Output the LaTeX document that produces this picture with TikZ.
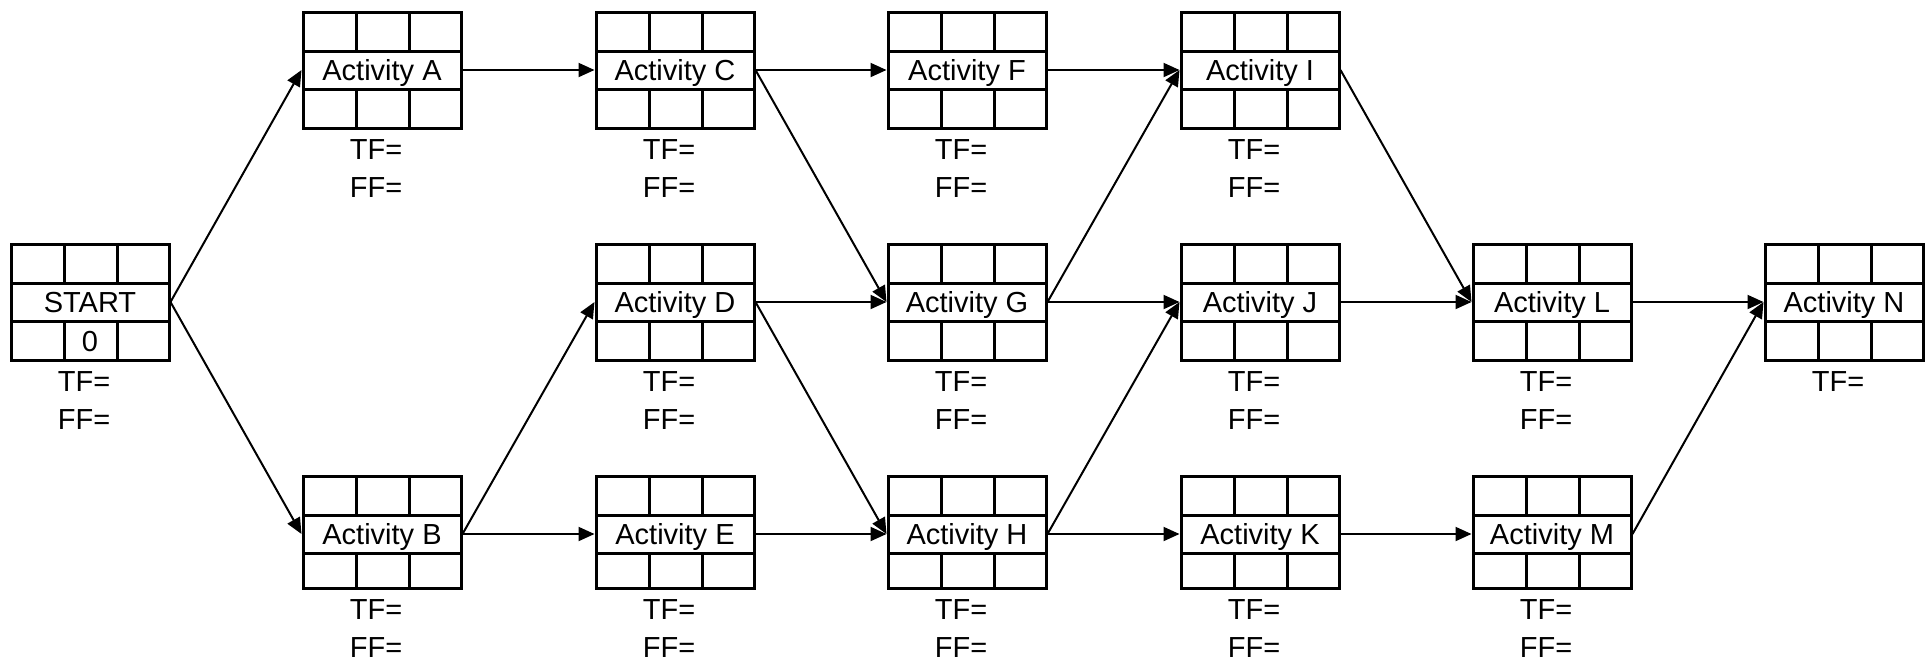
\documentclass[tikz,border=0pt]{standalone}
\usepackage{fontspec}
\setmainfont{Liberation Sans}
\usetikzlibrary{arrows.meta}
\tikzset{
  boxline/.style={line width=3pt},
  midrow/.style={draw, line width=3pt, minimum width=158pt, inner sep=0pt,
    text height=21pt, text depth=0pt, font=\fontsize{29}{34}\selectfont},
  cell/.style={inner sep=0pt, text height=21pt, text depth=0pt, font=\fontsize{29}{34}\selectfont},
  flab/.style={anchor=base, inner sep=0pt, font=\fontsize{29}{34}\selectfont},
  conn/.style={line width=2pt, -{Triangle[length=16pt,width=14pt]}}
}
% #1 name, #2 left x, #3 top, #4 row line 1, #5 row line 2, #6 bottom, #7 label
\newcommand\actbox[7]{%
  \draw[boxline] (#2,#3) rectangle (#2+158,#6);
  \draw[boxline] (#2+53,#3) -- (#2+53,#4) (#2+106,#3) -- (#2+106,#4);
  \draw[boxline] (#2+53,#5) -- (#2+53,#6) (#2+106,#5) -- (#2+106,#6);
  \node[midrow, minimum height={(#5-#4)*1pt}] (#1) at (#2+79,{(#4+#5)/2}) {#7};
}
\newcommand\tflab[3]{% name, left, bottom
  \node[flab] (#1-tf) at (#2+73,#3+31) {TF=};
}
\newcommand\fflab[3]{%
  \node[flab] (#1-ff) at (#2+73,#3+69) {FF=};
}
\begin{document}
\begin{tikzpicture}[x=1pt,y=-1pt]
\useasboundingbox (0,0) rectangle (1931,665);
% START
\actbox{S}{11}{244}{283}{321}{360}{START}
\node[cell] (S0) at (11+79,{(321+360)/2}) {0};
\tflab{S}{11}{360}\fflab{S}{11}{360}
% top row
\actbox{A}{303}{12}{51}{89}{128}{Activity A}
\tflab{A}{303}{128}\fflab{A}{303}{128}
\actbox{C}{596}{12}{51}{89}{128}{Activity C}
\tflab{C}{596}{128}\fflab{C}{596}{128}
\actbox{F}{888}{12}{51}{89}{128}{Activity F}
\tflab{F}{888}{128}\fflab{F}{888}{128}
\actbox{I}{1181}{12}{51}{89}{128}{Activity I}
\tflab{I}{1181}{128}\fflab{I}{1181}{128}
% middle row
\actbox{D}{596}{244}{283}{321}{360}{Activity D}
\tflab{D}{596}{360}\fflab{D}{596}{360}
\actbox{G}{888}{244}{283}{321}{360}{Activity G}
\tflab{G}{888}{360}\fflab{G}{888}{360}
\actbox{J}{1181}{244}{283}{321}{360}{Activity J}
\tflab{J}{1181}{360}\fflab{J}{1181}{360}
\actbox{L}{1473}{244}{283}{321}{360}{Activity L}
\tflab{L}{1473}{360}\fflab{L}{1473}{360}
\actbox{N}{1765}{244}{283}{321}{360}{Activity N}
\tflab{N}{1765}{360}
% bottom row
\actbox{B}{303}{476}{515}{553}{588}{Activity B}
\tflab{B}{303}{588}\fflab{B}{303}{588}
\actbox{E}{596}{476}{515}{553}{588}{Activity E}
\tflab{E}{596}{588}\fflab{E}{596}{588}
\actbox{H}{888}{476}{515}{553}{588}{Activity H}
\tflab{H}{888}{588}\fflab{H}{888}{588}
\actbox{K}{1181}{476}{515}{553}{588}{Activity K}
\tflab{K}{1181}{588}\fflab{K}{1181}{588}
\actbox{M}{1473}{476}{515}{553}{588}{Activity M}
\tflab{M}{1473}{588}\fflab{M}{1473}{588}
% connectors
\foreach \a/\b in {S/A,S/B,A/C,B/D,B/E,C/F,C/G,D/G,D/H,E/H,F/I,G/I,G/J,H/J,H/K,I/L,J/L,K/M,L/N,M/N}
  \draw[conn] (\a.east) -- (\b.west);
\end{tikzpicture}
\end{document}
